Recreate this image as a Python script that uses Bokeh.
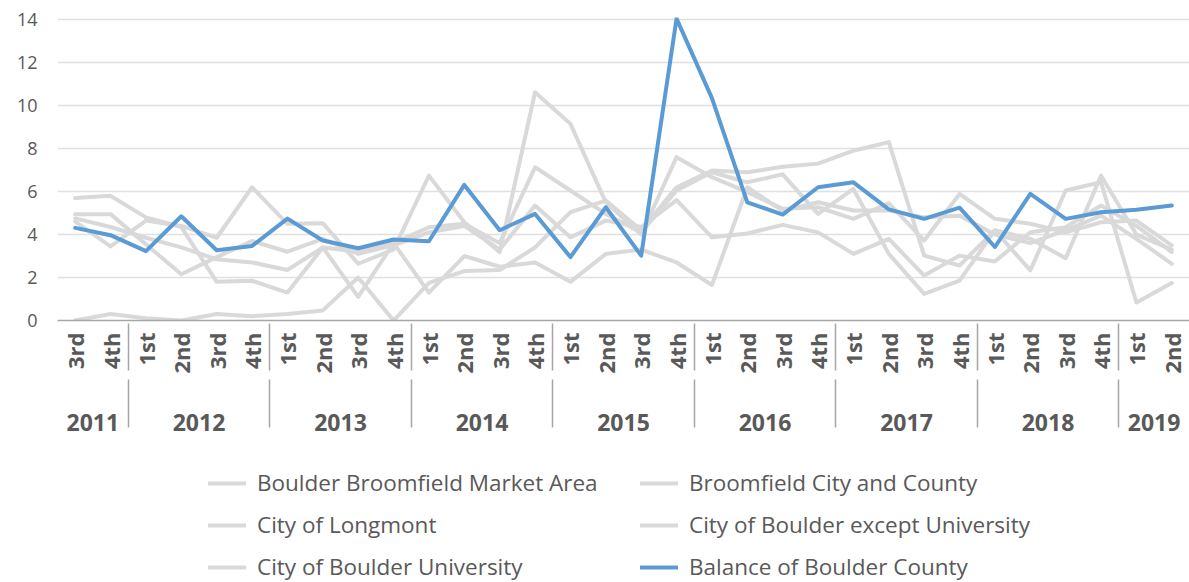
from bokeh.plotting import figure
from bokeh.layouts import column
from bokeh.models import FactorRange, Range1d, Legend, LegendItem, FixedTicker, CategoricalAxis
from bokeh.embed import file_html
from bokeh.resources import INLINE

YEARS = ["2011", "2011",
         "2012", "2012", "2012", "2012",
         "2013", "2013", "2013", "2013",
         "2014", "2014", "2014", "2014",
         "2015", "2015", "2015", "2015",
         "2016", "2016", "2016", "2016",
         "2017", "2017", "2017", "2017",
         "2018", "2018", "2018", "2018",
         "2019", "2019"]
QUARTERS = ["3rd", "4th",
            "1st", "2nd", "3rd", "4th",
            "1st", "2nd", "3rd", "4th",
            "1st", "2nd", "3rd", "4th",
            "1st", "2nd", "3rd", "4th",
            "1st", "2nd", "3rd", "4th",
            "1st", "2nd", "3rd", "4th",
            "1st", "2nd", "3rd", "4th",
            "1st", "2nd"]

boulder_broomfield_market_area = [5.7, 5.8, 4.8, 4.35, 1.8, 1.85, 1.3, 3.4, 1.1, 3.6,
                                  1.3, 3.0, 2.5, 2.7, 1.8, 3.1, 3.3, 2.7, 1.65, 6.2,
                                  5.1, 5.5, 5.12, 5.12, 4.8, 4.88, 4.0, 3.6, 4.2, 4.88,
                                  3.8, 2.64]
broomfield_city_and_county = [0.0, 0.3, 0.1, 0.0, 0.3, 0.2, 0.3, 0.47, 2.0, 0.0,
                              1.75, 2.3, 2.35, 3.4, 5.04, 5.58, 4.2, 6.2, 6.98, 6.9,
                              7.15, 7.3, 7.9, 8.3, 3.02, 2.56, 4.2, 3.8, 2.9, 6.74,
                              4.0, 3.3]
city_of_longmont = [4.95, 4.95, 3.55, 2.15, 2.95, 3.7, 3.2, 3.8, 3.1, 3.5,
                    4.1, 4.4, 3.3, 5.35, 3.87, 4.65, 4.35, 5.6, 3.87, 4.05,
                    4.45, 4.1, 3.1, 3.8, 2.09, 3.02, 2.75, 4.11, 4.34, 5.35,
                    4.4, 3.18]
city_of_boulder_except_university = [4.75, 4.35, 3.85, 3.4, 2.85, 2.7, 2.35, 3.4, 3.2, 3.6,
                                     4.34, 4.5, 3.6, 7.13, 6.05, 4.96, 4.1, 6.05, 6.9, 6.43,
                                     6.8, 4.96, 6.12, 3.1, 1.24, 1.86, 4.19, 2.33, 6.05, 6.43,
                                     0.84, 1.74]
city_of_boulder_university = [4.6, 3.45, 4.65, 4.4, 3.85, 6.2, 4.5, 4.53, 2.64, 3.3,
                              6.74, 4.57, 3.18, 10.62, 9.15, 5.5, 4.0, 7.6, 6.67, 5.97,
                              5.2, 5.27, 4.73, 5.46, 3.72, 5.89, 4.73, 4.5, 4.1, 4.57,
                              4.65, 3.5]
balance_of_boulder_county = [4.31, 3.97, 3.23, 4.85, 3.27, 3.47, 4.74, 3.72, 3.36, 3.77,
                             3.69, 6.31, 4.2, 4.96, 2.95, 5.27, 3.02, 14.05, 10.35, 5.5,
                             4.93, 6.2, 6.43, 5.17, 4.73, 5.25, 3.42, 5.89, 4.73, 5.04,
                             5.15, 5.35]

SERIES = [
    ("Boulder Broomfield Market Area", boulder_broomfield_market_area, "#d9d9d9"),
    ("Broomfield City and County", broomfield_city_and_county, "#d9d9d9"),
    ("City of Longmont", city_of_longmont, "#d9d9d9"),
    ("City of Boulder except University", city_of_boulder_except_university, "#d9d9d9"),
    ("City of Boulder University", city_of_boulder_university, "#d9d9d9"),
    ("Balance of Boulder County", balance_of_boulder_county, "#5b9bd5"),
]
Y_TICKS = [0, 2, 4, 6, 8, 10, 12, 14]

FONT = "Open Sans"
TXT = "#595959"
AXC = "#a6a6a6"

factors = list(zip(YEARS, QUARTERS))
xr = FactorRange(*factors, factor_padding=0, group_padding=0, subgroup_padding=0, range_padding=0)

p = figure(x_range=xr, y_range=Range1d(0, 14.1),
           width=1189, height=450,
           output_backend="svg", toolbar_location=None,
           min_border_left=57, min_border_right=0, min_border_top=17, min_border_bottom=130)
p.outline_line_color = None
p.background_fill_color = "white"

for name, vals, col in SERIES:
    p.line(x=factors, y=vals, line_color=col, line_width=4, line_join="round", line_cap="round")

p.xgrid.grid_line_color = None
p.ygrid.grid_line_color = "#e0e0e0"
p.ygrid.grid_line_width = 1.5

p.yaxis.ticker = FixedTicker(ticks=Y_TICKS)
p.yaxis.axis_line_color = None
p.yaxis.major_tick_line_color = None
p.yaxis.minor_tick_line_color = None
p.yaxis.major_tick_out = 0
p.yaxis.minor_tick_out = 0
p.yaxis.major_label_text_font = FONT
p.yaxis.major_label_text_font_size = "18px"
p.yaxis.major_label_text_color = TXT
p.yaxis.major_label_standoff = 20

# quarter level axis
xa = p.xaxis[0]
xa.axis_line_color = AXC
xa.axis_line_width = 1.5
xa.major_tick_line_color = None
xa.minor_tick_line_color = None
xa.major_tick_out = 0
xa.minor_tick_out = 0
xa.major_label_orientation = 1.5708
xa.major_label_text_font = FONT
xa.major_label_text_font_size = "22px"
xa.major_label_text_font_style = "bold"
xa.major_label_text_color = TXT
xa.major_label_standoff = 12
xa.group_text_font_size = "10px"
xa.group_text_alpha = 0
xa.separator_line_color = AXC
xa.separator_line_width = 1.5

# year level axis
ya = CategoricalAxis()
ya.axis_line_color = None
ya.major_tick_line_color = None
ya.minor_tick_line_color = None
ya.major_tick_out = 0
ya.minor_tick_out = 0
ya.major_label_text_font_size = "1px"
ya.major_label_text_alpha = 0
ya.major_label_standoff = 37
ya.group_text_font = FONT
ya.group_text_font_size = "23px"
ya.group_text_font_style = "bold"
ya.group_text_color = TXT
ya.group_text_line_height = 1.6
ya.separator_line_color = AXC
ya.separator_line_width = 1.5
p.add_layout(ya, "below")

# legend strip below the chart (frame aligned with the chart frame)
leg = figure(width=1189, height=132, x_range=Range1d(0, 1), y_range=Range1d(0, 1),
             x_axis_type=None, y_axis_type=None, output_backend="svg", toolbar_location=None,
             min_border_left=57, min_border_right=0, min_border_top=0, min_border_bottom=0)
leg.outline_line_color = None
items = []
for name, vals, col in SERIES:
    r = leg.line(x=[-5, -4], y=[-5, -4], line_color=col, line_width=4, line_cap="round")
    items.append(LegendItem(label=name, renderers=[r]))

legend = Legend(items=items, orientation="horizontal", ncols=2, location=(151, 0),
                label_text_font=FONT, label_text_font_size="22.5px", label_text_color=TXT,
                glyph_width=38, glyph_height=26, label_height=26, label_standoff=11,
                label_width=372, spacing=11, padding=0, margin=0,
                border_line_color=None, background_fill_alpha=0)
leg.add_layout(legend)

open("out.html", "w").write(file_html(column(p, leg), INLINE))
